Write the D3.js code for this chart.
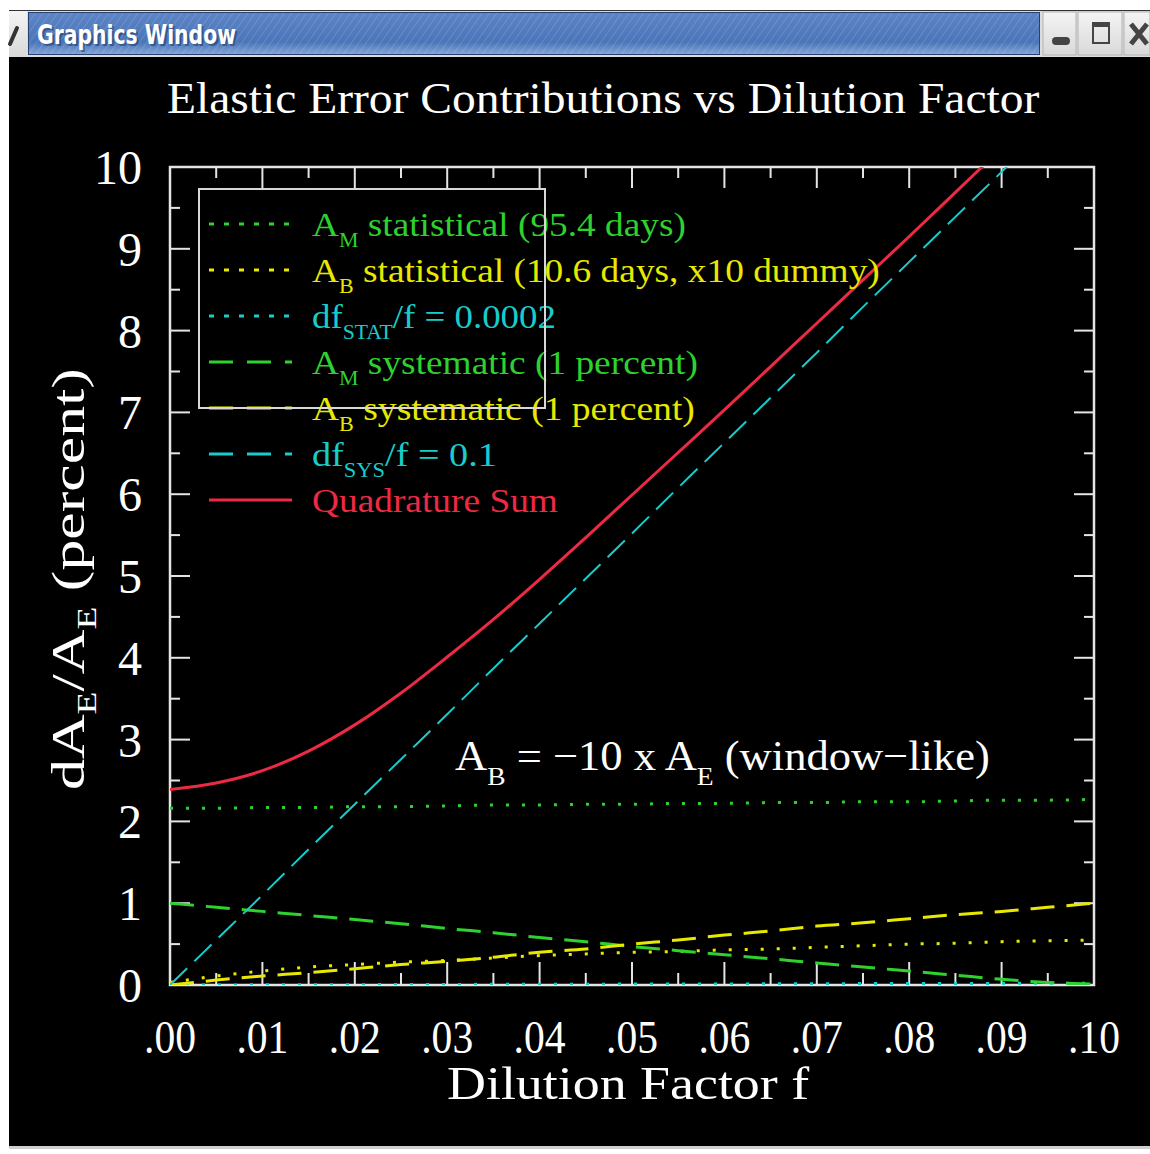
<!DOCTYPE html>
<html>
<head>
<meta charset="utf-8">
<script src="https://cdn.jsdelivr.net/npm/d3@7"></script>
<style>
  html, body { margin: 0; padding: 0; background: #fff; }
  svg { display: block; }
</style>
</head>
<body>
<svg id="chart"></svg>
<script>
// values, dilution factor f on x, percent on y
const dilution = [0.000, 0.005, 0.010, 0.015, 0.020, 0.025, 0.030, 0.035, 0.040, 0.045, 0.050,
                  0.055, 0.060, 0.065, 0.070, 0.075, 0.080, 0.085, 0.090, 0.095, 0.100];
const amStat  = [2.16, 2.16, 2.17, 2.17, 2.18, 2.18, 2.19, 2.20, 2.20, 2.21, 2.21,
                 2.22, 2.22, 2.23, 2.23, 2.24, 2.24, 2.25, 2.26, 2.26, 2.27];
const abStat  = [0.03, 0.11, 0.17, 0.22, 0.25, 0.28, 0.30, 0.33, 0.36, 0.38, 0.40,
                 0.41, 0.43, 0.44, 0.46, 0.48, 0.50, 0.51, 0.53, 0.54, 0.55];
const dfStat  = [0.000, 0.001, 0.002, 0.003, 0.004, 0.006, 0.007, 0.008, 0.009, 0.010, 0.011,
                 0.012, 0.013, 0.014, 0.015, 0.017, 0.018, 0.019, 0.020, 0.021, 0.022];
const amSys   = [1.00, 0.95, 0.90, 0.85, 0.80, 0.75, 0.69, 0.64, 0.58, 0.53, 0.47,
                 0.42, 0.37, 0.32, 0.27, 0.22, 0.17, 0.12, 0.07, 0.03, 0.01];
const abSys   = [0.00, 0.06, 0.11, 0.15, 0.20, 0.25, 0.29, 0.34, 0.40, 0.44, 0.50,
                 0.55, 0.61, 0.66, 0.72, 0.76, 0.81, 0.86, 0.90, 0.95, 1.00];
const dfSys   = [0.00, 0.55, 1.10, 1.66, 2.21, 2.76, 3.31, 3.87, 4.42, 4.97, 5.52,
                 6.08, 6.63, 7.18, 7.73, 8.29, 8.84, 9.39, 9.94, 10.50, 11.05];
const quadSum = [2.39, 2.47, 2.62, 2.86, 3.18, 3.57, 4.01, 4.47, 4.96, 5.47, 5.99,
                 6.51, 7.03, 7.56, 8.09, 8.62, 9.15, 9.69, 10.23, 10.77, 11.31];

const xTickValues = [0, 0.01, 0.02, 0.03, 0.04, 0.05, 0.06, 0.07, 0.08, 0.09, 0.10];
const xTickLabels = [".00", ".01", ".02", ".03", ".04", ".05", ".06", ".07", ".08", ".09", ".10"];
const yTickValues = [0, 1, 2, 3, 4, 5, 6, 7, 8, 9, 10];

// legend labels, pieces with sub:true are subscripts
const legendLabels = [
  [{t: "A"}, {t: "M", sub: true}, {t: " statistical (95.4 days)"}],
  [{t: "A"}, {t: "B", sub: true}, {t: " statistical (10.6 days, x10 dummy)"}],
  [{t: "df"}, {t: "STAT", sub: true}, {t: "/f = 0.0002"}],
  [{t: "A"}, {t: "M", sub: true}, {t: " systematic (1 percent)"}],
  [{t: "A"}, {t: "B", sub: true}, {t: " systematic (1 percent)"}],
  [{t: "df"}, {t: "SYS", sub: true}, {t: "/f = 0.1"}],
  [{t: "Quadrature Sum"}]
];
const legendWidths = [374, 568, 244, 386, 383, 185, 246];

const GREEN = "#2ed12e", YELLOW = "#e8e800", CYAN = "#19cccc", RED = "#ec2a44";

let series = [
  {values: amStat,  color: GREEN,  dash: "3,13", legDash: "5,10", width: 3},
  {values: abStat,  color: YELLOW, dash: "3,13", legDash: "5,10", width: 3},
  {values: dfStat,  color: CYAN,   dash: "3,13", legDash: "5,10", width: 3},
  {values: amSys,   color: GREEN,  dash: "24,12", legDash: "24,14", width: 3},
  {values: abSys,   color: YELLOW, dash: "24,12", legDash: "24,14", width: 3},
  {values: dfSys,   color: CYAN,   dash: "24,10", legDash: "24,14", width: 2},
  {values: quadSum, color: RED,    dash: null,   legDash: null,   width: 3}
];

const W = 1150, H = 1154;
const plot = {left: 170, right: 1094, top: 167, bottom: 985};
const SERIF = "'Liberation Serif', 'DejaVu Serif', serif";
const SANS_NARROW = "'DejaVu Sans Condensed', 'Liberation Sans Narrow', sans-serif";
const FRAME = "#e4e4e4";

const svg = d3.select("#chart").attr("width", W).attr("height", H);

//squeeze or stretch a text node so it spans a given width
function fitWidth(node, w) {
  let bb = node.getBBox();
  let s = w / bb.width;
  let x0 = bb.x;
  d3.select(node).attr("transform", `translate(${x0},0) scale(${s},1) translate(${-x0},0)`);
}

//same but keep the centre where it is
function fitCentered(node, w) {
  let bb = node.getBBox();
  let s = w / bb.width;
  let cx = bb.x + bb.width / 2;
  d3.select(node).attr("transform", `translate(${cx},0) scale(${s},1) translate(${-cx},0)`);
}

function addParts(textSel, parts, subSize, subShift) {
  parts.forEach(function(p, i) {
    let ts = textSel.append("tspan").text(p.t);
    if (p.sub) {
      ts.attr("font-size", subSize).attr("dy", subShift);
    }
    else if (i > 0 && parts[i - 1].sub) {
      // back to the baseline after a subscript
      ts.attr("dy", -subShift);
    }
  });
}

// ---- window chrome ----
function drawWindow() {
  let defs = svg.append("defs");
  let grad = defs.append("linearGradient").attr("id", "barGrad")
    .attr("x1", 0).attr("y1", 0).attr("x2", 0).attr("y2", 1);
  grad.append("stop").attr("offset", "0%").attr("stop-color", "#5d85c6");
  grad.append("stop").attr("offset", "70%").attr("stop-color", "#4a75b9");
  grad.append("stop").attr("offset", "100%").attr("stop-color", "#86a6d8");

  let hatch = defs.append("pattern").attr("id", "hatch")
    .attr("width", 6).attr("height", 6).attr("patternUnits", "userSpaceOnUse")
    .attr("patternTransform", "rotate(35)");
  hatch.append("line").attr("x1", 0).attr("y1", 0).attr("x2", 0).attr("y2", 6)
    .attr("stroke", "#ffffff").attr("stroke-opacity", 0.13).attr("stroke-width", 2);

  let btnGrad = defs.append("linearGradient").attr("id", "btnGrad")
    .attr("x1", 0).attr("y1", 0).attr("x2", 0).attr("y2", 1);
  btnGrad.append("stop").attr("offset", "0%").attr("stop-color", "#f4f4f4");
  btnGrad.append("stop").attr("offset", "100%").attr("stop-color", "#d9d9d9");

  svg.append("rect").attr("x", 0).attr("y", 0).attr("width", W).attr("height", H).attr("fill", "#fff");
  // frame strip
  svg.append("rect").attr("x", 9).attr("y", 10).attr("width", W - 9).attr("height", 48).attr("fill", "#dcdcdc");
  svg.append("line").attr("x1", 9).attr("x2", W).attr("y1", 10.5).attr("y2", 10.5).attr("stroke", "#333").attr("stroke-width", 1);

  // left menu box
  svg.append("rect").attr("x", 9).attr("y", 11).attr("width", 18).attr("height", 46).attr("fill", "url(#btnGrad)");
  svg.append("line").attr("x1", 10).attr("y1", 44).attr("x2", 17).attr("y2", 28)
    .attr("stroke", "#333").attr("stroke-width", 4).attr("stroke-linecap", "round");

  // blue title bar
  svg.append("rect").attr("x", 28).attr("y", 12).attr("width", 1012).attr("height", 43).attr("fill", "url(#barGrad)");
  svg.append("rect").attr("x", 28).attr("y", 12).attr("width", 1012).attr("height", 43).attr("fill", "url(#hatch)");
  svg.append("rect").attr("x", 28.5).attr("y", 12.5).attr("width", 1011).attr("height", 42)
    .attr("fill", "none").attr("stroke", "#24416f").attr("stroke-width", 1);
  let shadow = svg.append("text").attr("x", 39).attr("y", 46).attr("fill", "#1d3560").attr("fill-opacity", 0.55)
    .attr("font-family", SANS_NARROW).attr("font-weight", "bold")
    .attr("font-size", 26).text("Graphics Window");
  fitWidth(shadow.node(), 199);
  let tt = svg.append("text").attr("x", 37).attr("y", 44).attr("fill", "#fff")
    .attr("font-family", SANS_NARROW).attr("font-weight", "bold")
    .attr("font-size", 26).text("Graphics Window");
  fitWidth(tt.node(), 199);

  // buttons on the right
  [[1043, 33], [1078, 44], [1124, 26]].forEach(function(b) {
    svg.append("rect").attr("x", b[0]).attr("y", 12).attr("width", b[1]).attr("height", 43)
      .attr("fill", "url(#btnGrad)").attr("stroke", "#b4b4b4").attr("stroke-width", 1);
  });
  svg.append("rect").attr("x", 1052).attr("y", 37).attr("width", 18).attr("height", 8).attr("rx", 4).attr("fill", "#444");
  svg.append("rect").attr("x", 1093).attr("y", 23).attr("width", 16).attr("height", 20)
    .attr("fill", "none").attr("stroke", "#444").attr("stroke-width", 2);
  svg.append("rect").attr("x", 1093).attr("y", 22).attr("width", 16).attr("height", 5).attr("fill", "#444");
  svg.append("path").attr("d", "M1131,24 L1147,44 M1147,24 L1131,44")
    .attr("stroke", "#444").attr("stroke-width", 5);

  // black drawing area
  svg.append("rect").attr("x", 9).attr("y", 57).attr("width", W - 9).attr("height", 1089).attr("fill", "#000");
  svg.append("rect").attr("x", 9).attr("y", 1146).attr("width", W - 9).attr("height", 3).attr("fill", "#cfcfcf");
}

drawWindow();

// ---- scales ----
let x = d3.scaleLinear().domain([0, 0.1]).range([plot.left, plot.right]);
let y = d3.scaleLinear().domain([0, 10]).range([plot.bottom, plot.top]);

svg.append("clipPath").attr("id", "plotClip").append("rect")
  .attr("x", plot.left).attr("y", plot.top)
  .attr("width", plot.right - plot.left).attr("height", plot.bottom - plot.top);

// ---- title ----
let title = svg.append("text").attr("x", 167).attr("y", 113)
  .attr("font-family", SERIF).attr("font-size", 44).attr("fill", "#fff")
  .text("Elastic Error Contributions vs Dilution Factor");
fitWidth(title.node(), 873);

// ---- frame, ticks ----
let axes = svg.append("g").attr("stroke", FRAME).attr("fill", "none");

let xMinor = d3.range(0, 21).map(i => i * 0.005);
xMinor.forEach(function(v, i) {
  let major = i % 2 === 0;
  // bottom ticks point up, top ticks point down
  axes.append("line").attr("x1", x(v)).attr("x2", x(v))
    .attr("y1", plot.bottom).attr("y2", plot.bottom - (major ? 23 : 12)).attr("stroke-width", 2);
  axes.append("line").attr("x1", x(v)).attr("x2", x(v))
    .attr("y1", plot.top).attr("y2", plot.top + (major ? 21 : 11)).attr("stroke-width", 2);
});

let yMinor = d3.range(0, 21).map(i => i * 0.5);
yMinor.forEach(function(v, i) {
  let major = i % 2 === 0;
  axes.append("line").attr("y1", y(v)).attr("y2", y(v))
    .attr("x1", plot.left).attr("x2", plot.left + (major ? 20 : 10)).attr("stroke-width", 2);
  axes.append("line").attr("y1", y(v)).attr("y2", y(v))
    .attr("x1", plot.right).attr("x2", plot.right - (major ? 20 : 10)).attr("stroke-width", 2);
});

axes.append("rect").attr("x", plot.left).attr("y", plot.top)
  .attr("width", plot.right - plot.left).attr("height", plot.bottom - plot.top)
  .attr("stroke-width", 2.5);

// tick labels
svg.append("g").selectAll("text").data(xTickValues).enter().append("text")
  .attr("x", d => x(d)).attr("y", 1053)
  .attr("text-anchor", "middle").attr("font-family", SERIF).attr("font-size", 46).attr("fill", "#fff")
  .text((d, i) => xTickLabels[i])
  .each(function() { fitCentered(this, 52); });

svg.append("g").selectAll("text").data(yTickValues).enter().append("text")
  .attr("x", 142).attr("y", d => y(d) + 17)
  .attr("text-anchor", "end").attr("font-family", SERIF).attr("font-size", 48).attr("fill", "#fff")
  .text(d => d);

// axis titles
let xTitle = svg.append("text").attr("x", 447).attr("y", 1099)
  .attr("font-family", SERIF).attr("font-size", 46).attr("fill", "#fff")
  .text("Dilution Factor f");
fitWidth(xTitle.node(), 363);

let yTitleG = svg.append("g").attr("transform", "translate(84,790) rotate(-90)");
let yTitle = yTitleG.append("text").attr("x", 0).attr("y", 0)
  .attr("font-family", SERIF).attr("font-size", 46).attr("fill", "#fff");
addParts(yTitle, [{t: "dA"}, {t: "E", sub: true}, {t: "/A"}, {t: "E", sub: true}, {t: " (percent)"}], 28, 12);
fitWidth(yTitle.node(), 422);

// ---- data lines ----
let line = d3.line()
  .x(d => x(d[0]))
  .y(d => y(d[1]))
  .curve(d3.curveMonotoneX);

let dataG = svg.append("g").attr("clip-path", "url(#plotClip)");
series.forEach(function(s) {
  dataG.append("path")
    .datum(dilution.map((f, i) => [f, s.values[i]]))
    .attr("d", line)
    .attr("fill", "none")
    .attr("stroke", s.color)
    .attr("stroke-width", s.width)
    .attr("stroke-dasharray", s.dash);
});

// ---- annotation ----
let note = svg.append("text").attr("x", 455).attr("y", 770)
  .attr("font-family", SERIF).attr("font-size", 42).attr("fill", "#fff");
addParts(note, [{t: "A"}, {t: "B", sub: true}, {t: " = \u221210 x A"}, {t: "E", sub: true}, {t: " (window\u2212like)"}], 26, 15);
fitWidth(note.node(), 535);

// ---- legend ----
let legend = svg.append("g");
series.forEach(function(s, i) {
  let cy = 224 + i * 46;
  legend.append("line").attr("x1", 209).attr("x2", 292).attr("y1", cy).attr("y2", cy)
    .attr("stroke", s.color).attr("stroke-width", 3).attr("stroke-dasharray", s.legDash);
  let t = legend.append("text").attr("x", 312).attr("y", cy + 12)
    .attr("font-family", SERIF).attr("font-size", 34).attr("fill", s.color);
  addParts(t, legendLabels[i], 20, 11);
  fitWidth(t.node(), legendWidths[i]);
});

// legend box sits on top of its own text in the original
svg.append("rect").attr("x", 199).attr("y", 189).attr("width", 346).attr("height", 219)
  .attr("fill", "none").attr("stroke", "#d8d8d8").attr("stroke-width", 2);
</script>
</body>
</html>
